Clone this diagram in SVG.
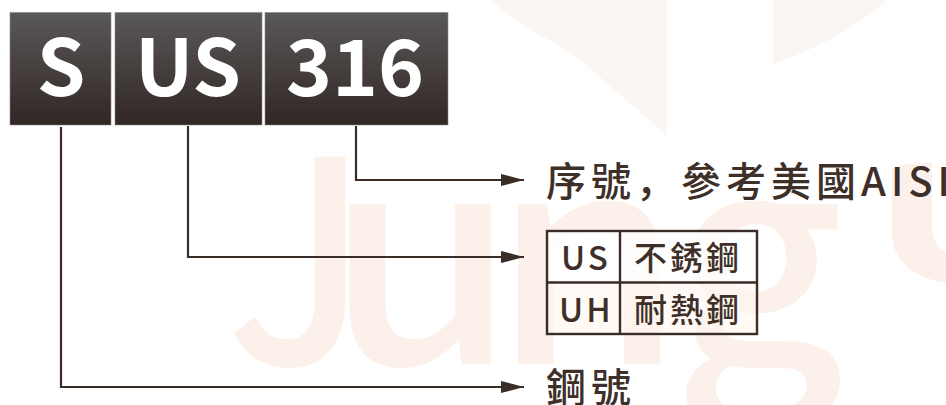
<svg xmlns="http://www.w3.org/2000/svg" width="946" height="405" viewBox="0 0 946 405">
<defs>
<linearGradient id="g" x1="0" y1="0" x2="0" y2="1"><stop offset="0" stop-color="#5a5858"/><stop offset="1" stop-color="#312724"/></linearGradient>
<marker id="a" markerUnits="userSpaceOnUse" markerWidth="24" markerHeight="14" refX="23" refY="7" orient="auto"><path d="M0 1L23 7L0 13Z" fill="#3a2c26"/></marker>
</defs>
<style>
text{font-family:"Noto Sans CJK TC","Noto Sans",sans-serif}
.wm{fill:#fbf1ea;font-size:290px;font-weight:500}
.box{fill:url(#g);stroke:#8a8888;stroke-width:.6}
.big{fill:#fff;font-size:78px;font-weight:700;text-anchor:middle}
.lab{fill:#3e3029;font-size:40px;font-weight:500;letter-spacing:5px}
.cell{fill:#3e3029;font-size:33px;font-weight:500;letter-spacing:3px}
.ln{fill:none;stroke:#3a2c26;stroke-width:2.2;marker-end:url(#a)}
.tb{fill:none;stroke:#3a2c26;stroke-width:2.4}
</style>
<g id="watermark">
<path d="M490 0C520 25 550 40 577 57L667 136V0Z" fill="#fbf6f1"/>
<path d="M773 0H887C860 25 815 50 773 64Z" fill="#fbf6f1"/>
<path d="M892 172C892 166 900 163 932 163V225C932 240 938 248 946 252V283C915 278 892 262 892 232Z" fill="#fbf1ea"/>
<text class="wm" transform="translate(226 364) scale(.9 .97)">J</text>
<text class="wm" transform="translate(325 364) scale(1.07 1)">u</text>
<text class="wm" transform="translate(491 364) scale(1.07 1)">n</text>
<text class="wm" transform="translate(672 364) scale(1.03 1)">g</text>
</g>
<g id="node-s"><rect class="box" x="10" y="12.500" width="101" height="112.500"/><text class="big" x="61" y="96">S</text></g>
<g id="node-us"><rect class="box" x="115" y="12.500" width="147" height="112.500"/><text class="big" x="188" y="96">US</text></g>
<g id="node-316"><rect class="box" x="265" y="12.500" width="183" height="112.500"/><text class="big" x="355" y="96">316</text></g>
<g id="connectors">
<path class="ln" d="M356 126V180H524"/>
<path class="ln" d="M188 126V257H524"/>
<path class="ln" d="M61 127V387H524"/>
</g>
<g id="label-serial"><text class="lab" x="546" y="196">序號<tspan font-family="Noto Sans CJK SC">，</tspan>參考美國AISI</text></g>
<g id="table">
<rect x="547" y="231" width="210" height="51.500" fill="#fff" fill-opacity=".85"/>
<rect x="547" y="282.500" width="210" height="51.500" fill="#fff6ef" fill-opacity=".6"/>
<rect class="tb" x="547" y="231" width="210" height="103"/>
<path class="tb" d="M547 282.500H757M620 231V334"/>
<text class="cell" x="561" y="270">US</text><text class="cell" x="634" y="270">不銹鋼</text>
<text class="cell" x="559" y="322">UH</text><text class="cell" x="634" y="322">耐熱鋼</text>
</g>
<g id="label-steel"><text class="lab" x="546" y="402">鋼號</text></g>
</svg>
